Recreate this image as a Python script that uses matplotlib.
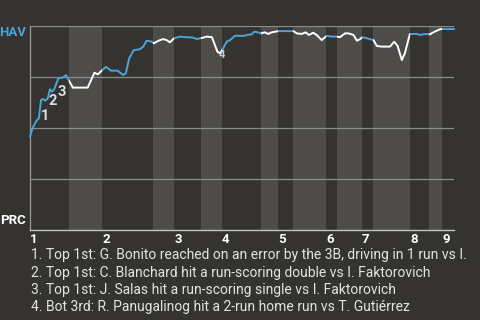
import matplotlib
matplotlib.use('Agg')
import matplotlib.pyplot as plt
from matplotlib.patches import Rectangle

# ---- data ----
plays = [0, 0.6, 1.4, 2.1, 2.6, 3.1, 3.6, 4.2, 4.7, 5.2, 5.7, 6.7, 7.7, 8.5, 9.1, 10.1,
         13.6, 15.2, 16.0, 17.9, 19.1, 20.7, 21.9, 22.6, 23.4, 24.5, 25.9, 26.7, 27.5,
         28.7, 29.2, 30.3, 31.4, 32.2, 33.0, 34.0, 35.4, 37.0, 38.5, 39.3, 40.3, 41.7,
         42.9, 43.6, 44.2, 44.8, 45.2, 46.4, 47.2, 48.3, 50.7, 51.1, 52.3, 52.9, 53.7,
         54.5, 55.4, 56.2, 57.0, 57.8, 58.6, 62.1, 62.9, 64.1, 65.0, 65.8, 66.8, 67.6,
         68.8, 70.0, 71.2, 72.3, 73.1, 74.3, 75.1, 76.3, 77.1, 77.8, 78.4, 79.4, 81.0,
         81.8, 83.0, 84.9, 85.9, 86.7, 87.7, 88.4, 89.6, 91.2, 92.0, 93.2, 94.3, 95.4,
         96.7, 97.2, 100]
win_prob = [0.458, 0.499, 0.531, 0.548, 0.637, 0.642, 0.634, 0.646, 0.690, 0.678, 0.690,
            0.744, 0.747, 0.760, 0.735, 0.698, 0.698, 0.771, 0.763, 0.800, 0.781, 0.781,
            0.760, 0.768, 0.842, 0.882, 0.886, 0.899, 0.928, 0.923, 0.915, 0.928, 0.936,
            0.931, 0.920, 0.940, 0.948, 0.945, 0.943, 0.936, 0.940, 0.948, 0.945, 0.907,
            0.874, 0.866, 0.877, 0.923, 0.931, 0.952, 0.952, 0.956, 0.959, 0.972, 0.969,
            0.964, 0.969, 0.961, 0.969, 0.972, 0.975, 0.975, 0.964, 0.961, 0.969, 0.956,
            0.967, 0.956, 0.931, 0.952, 0.948, 0.948, 0.945, 0.964, 0.964, 0.956, 0.928,
            0.935, 0.945, 0.940, 0.931, 0.902, 0.899, 0.899, 0.923, 0.902, 0.833, 0.866,
            0.961, 0.961, 0.956, 0.961, 0.959, 0.972, 0.984, 0.985, 0.985]
half_bounds = [0, 9.2, 17, 29, 34, 40.3, 45.3, 54.5, 58.5, 62, 69.8, 72.4, 78.3, 80.9,
               89.6, 94.1, 97.2, 100]
inning_labels = ['1', '2', '3', '4', '5', '6', '7', '8', '9']
event_index = [4, 8, 11, 45]
event_labels = ['1', '2', '3', '4']
notes = [
    "1. Top 1st: G. Bonito reached on an error by the 3B, driving in 1 run vs I.",
    "2. Top 1st: C. Blanchard hit a run-scoring double vs I. Faktorovich",
    "3. Top 1st: J. Salas hit a run-scoring single vs I. Faktorovich",
    "4. Bot 3rd: R. Panugalinog hit a 2-run home run vs T. Gutiérrez",
]
team_top = 'HAV'
team_bottom = 'PRC'

# ---- style ----
BG = '#353330'
BAND = '#4d4c4a'
BLUE = '#4ba3d9'
WHITE = '#ffffff'
TXT = '#e4e4e4'
FONT = 'Roboto'

fig = plt.figure(figsize=(4.8, 3.2), dpi=100)
fig.patch.set_facecolor(BG)
ax = fig.add_axes([30 / 480, 90 / 320, 424 / 480, 204 / 320])
ax.set_facecolor(BG)
ax.set_xlim(0, 100)
ax.set_ylim(0, 1)

n_half = len(half_bounds) - 1
for i in range(n_half):
    a, b = half_bounds[i], half_bounds[i + 1]
    if i % 2 == 1:
        ax.axvspan(a, b, color=BAND, lw=0, zorder=0)
    color = BLUE if i % 2 == 0 else WHITE
    line, = ax.plot(plays, win_prob, color=color, lw=1.4, zorder=3, clip_on=True)
    lo = a - 1 if i == 0 else a
    hi = b + 1 if i == n_half - 1 else b
    clip = Rectangle((lo, -0.2), hi - lo, 1.4, transform=ax.transData)
    line.set_clip_path(clip)

for gy in [0.25, 0.5, 0.75, 1.0]:
    ax.axhline(gy, color='#8c8c8a', lw=0.9, zorder=1)

for s in ['top', 'right']:
    ax.spines[s].set_visible(False)
ax.spines['left'].set_color('#9c9c9a')
ax.spines['bottom'].set_color('#c4c4c2')
ax.spines['left'].set_linewidth(0.9)
ax.spines['bottom'].set_linewidth(1.0)

ax.set_yticks([])
ax.set_xticks(half_bounds[0::2])
ax.set_xticklabels(inning_labels, fontfamily=FONT, fontweight='bold', fontsize=9.5,
                   color=WHITE, ha='left')
ax.tick_params(axis='x', length=0, pad=2)

offsets = [(4, -16), (3, -12), (3, -14), (2, -2)]
sizes = [10.5, 10.5, 10.5, 8]
for k, idx in enumerate(event_index):
    ax.annotate(event_labels[k], (plays[idx], win_prob[idx]), xytext=offsets[k],
                textcoords='offset pixels', ha='center', va='center',
                fontfamily=FONT, fontweight='bold', fontsize=sizes[k],
                color='#dcdcdc' if k < 3 else '#c8c8c8', zorder=5)

fig.text(26 / 480, 1 - 33 / 320, team_top, ha='right', va='center', fontfamily=FONT,
         fontweight='bold', fontsize=9.5, color=BLUE)
fig.text(26 / 480, 1 - 220 / 320, team_bottom, ha='right', va='center', fontfamily=FONT,
         fontweight='bold', fontsize=9.5, color=WHITE)

for j, t in enumerate(notes):
    fig.text(31 / 480, 1 - (255 + 17.5 * j) / 320, t, ha='left', va='center',
             fontfamily=FONT, fontsize=10, color=TXT)

fig.savefig('out.png', dpi=100, facecolor=BG)
